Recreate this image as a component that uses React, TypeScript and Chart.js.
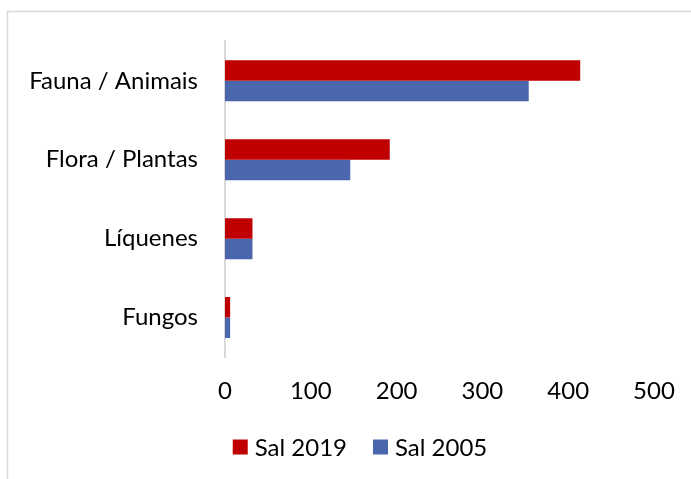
import React, { useEffect, useRef } from 'react';
import { Chart, registerables } from 'chart.js';

Chart.register(...registerables);

const categories = ['Fauna / Animais', 'Flora / Plantas', 'Líquenes', 'Fungos'];
const seriesNames = ['Sal 2019', 'Sal 2005'];
const sal2019 = [414, 192, 32, 6];
const sal2005 = [354, 146, 32, 6];
const colors = ['#C00000', '#4A66AC'];
const xMin = 0;
const xMax = 500;
const xStep = 100;

const FONT = 'Lato, "Open Sans", sans-serif';
const FONT_SIZE = 24;

const borderPlugin = {
  id: 'outerBorder',
  beforeDraw(chart: any) {
    const ctx = chart.ctx;
    ctx.save();
    ctx.fillStyle = '#ffffff';
    ctx.fillRect(0, 0, chart.width, chart.height);
    ctx.strokeStyle = '#D9D9D9';
    ctx.lineWidth = 1.5;
    ctx.beginPath();
    ctx.moveTo(7.5, chart.height);
    ctx.lineTo(7.5, 11.5);
    ctx.lineTo(chart.width, 11.5);
    ctx.stroke();
    ctx.restore();
  },
};

const legendPlugin = {
  id: 'customLegend',
  afterDraw(chart: any) {
    const ctx = chart.ctx;
    ctx.save();
    ctx.font = `${FONT_SIZE}px ${FONT}`;
    ctx.textBaseline = 'middle';
    ctx.textAlign = 'left';
    const box = 15;
    const gapText = 7;
    const gapItem = 26;
    const items = chart.data.datasets.map((d: any) => ({
      label: d.label,
      color: d.backgroundColor,
      w: ctx.measureText(d.label).width,
    }));
    let total = 0;
    items.forEach((it: any, i: number) => {
      total += box + gapText + it.w + (i < items.length - 1 ? gapItem : 0);
    });
    const cy = 447;
    let x = 360 - total / 2;
    items.forEach((it: any) => {
      ctx.fillStyle = it.color;
      ctx.fillRect(x, cy - box / 2, box, box);
      x += box + gapText;
      ctx.fillStyle = '#000000';
      ctx.fillText(it.label, x, cy + 1);
      x += it.w + gapItem;
    });
    ctx.restore();
  },
};

export default function App() {
  const ref = useRef<HTMLCanvasElement | null>(null);

  useEffect(() => {
    if (!ref.current) return;
    const chart = new Chart(ref.current, {
      type: 'bar',
      data: {
        labels: categories,
        datasets: [
          { label: seriesNames[0], data: sal2019, backgroundColor: colors[0], borderWidth: 0 },
          { label: seriesNames[1], data: sal2005, backgroundColor: colors[1], borderWidth: 0 },
        ],
      },
      options: {
        indexAxis: 'y',
        responsive: false,
        animation: false,
        datasets: {
          bar: { barPercentage: 1, categoryPercentage: 0.52 },
        },
        layout: { padding: { left: 0, top: 41, right: 37, bottom: 62 } },
        plugins: {
          legend: { display: false },
          tooltip: { enabled: false },
        },
        scales: {
          x: {
            min: xMin,
            max: xMax,
            ticks: {
              stepSize: xStep,
              color: '#000000',
              font: { family: FONT, size: FONT_SIZE },
              padding: 20,
              maxRotation: 0,
            },
            grid: { display: false, drawTicks: false },
            border: { display: false },
            afterFit(scale: any) {
              scale.height = 60;
              scale.paddingLeft = 0;
              scale.paddingRight = 0;
            },
          },
          y: {
            ticks: {
              color: '#000000',
              font: { family: FONT, size: FONT_SIZE },
              padding: 27,
            },
            grid: { display: false, drawTicks: false },
            border: { display: true, color: '#D9D9D9', width: 2 },
            afterFit(scale: any) {
              scale.width = 225;
            },
          },
        },
      },
      plugins: [borderPlugin, legendPlugin],
    });
    return () => chart.destroy();
  }, []);

  return (
    <div style={{ position: 'fixed', left: 0, top: 0, width: 691, height: 479, background: '#fff' }}>
      <canvas ref={ref} width={691} height={479} style={{ display: 'block', width: 691, height: 479 }} />
    </div>
  );
}
